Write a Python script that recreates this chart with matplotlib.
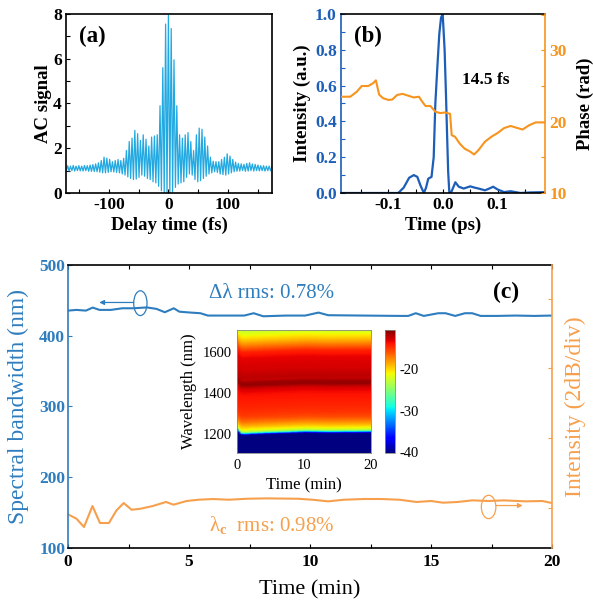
import numpy as np
import matplotlib
matplotlib.use("Agg")
import matplotlib.pyplot as plt
from matplotlib.patches import Ellipse
from matplotlib.ticker import MultipleLocator

# ---- (a) interferometric autocorrelation: fringe maxima / minima ----
FRINGE_FS = 4.7
fringe_index = np.arange(-36, 38)
ac_peaks = [1.22, 1.20, 1.23, 1.20, 1.22, 1.20, 1.23, 1.22, 1.25, 1.27,
            1.30, 1.35, 1.45, 1.60, 1.56, 1.50, 1.40, 1.45, 1.50, 1.45,
            1.55, 1.90, 2.30, 2.45, 2.80, 2.65, 2.35, 2.60, 2.40, 2.10,
            2.50, 2.55, 2.60, 3.90, 5.60, 7.55, 7.95, 7.35, 5.95, 3.90,
            2.60, 2.45, 2.60, 2.70, 2.30, 1.90, 2.60, 2.90, 2.85, 2.50,
            2.10, 1.60, 1.42, 1.40, 1.40, 1.50, 1.60, 1.75, 1.65, 1.50,
            1.38, 1.32, 1.30, 1.28, 1.32, 1.35, 1.30, 1.28, 1.25, 1.22,
            1.22, 1.20, 1.20, 1.18]
ac_troughs = [1.00, 0.98, 1.00, 0.98, 1.00, 0.99, 0.98, 1.00, 0.97, 0.97,
              0.96, 0.95, 0.93, 0.90, 0.90, 0.92, 0.95, 0.94, 0.92, 0.90,
              0.85, 0.80, 0.72, 0.65, 0.60, 0.62, 0.70, 0.80, 0.75, 0.65,
              0.60, 0.50, 0.45, 0.30, 0.10, 0.02, -0.10, -0.10, 0.05, 0.25,
              0.40, 0.45, 0.50, 0.70, 0.85, 0.80, 0.60, 0.50, 0.55, 0.65,
              0.75, 0.85, 0.90, 0.95, 0.92, 0.85, 0.82, 0.80, 0.85, 0.90,
              0.95, 0.97, 0.98, 1.00, 0.97, 0.98, 1.00, 0.98, 1.00, 0.99,
              1.00, 0.98, 1.00, 0.99]

# ---- (b) retrieved pulse ----
int_time_ps = [-0.187, -0.12, -0.082, -0.072, -0.062, -0.0535, -0.047, -0.041,
               -0.035, -0.031, -0.027, -0.021, -0.017, -0.014, -0.010, -0.0067,
               -0.0035, -0.0005, 0.003, 0.0055, 0.0075, 0.0095, 0.0117, 0.016,
               0.0227, 0.029, 0.038, 0.05, 0.058, 0.065, 0.077, 0.085, 0.092,
               0.1, 0.112, 0.124, 0.142, 0.16, 0.187]
intensity = [0.0, 0.0, 0.0, 0.03, 0.085, 0.10, 0.09, 0.04,
             0.0, 0.03, 0.08, 0.09, 0.20, 0.50, 0.72, 0.89,
             0.98, 1.0, 0.80, 0.55, 0.33, 0.12, 0.0, 0.01,
             0.06, 0.035, 0.025, 0.037, 0.03, 0.025, 0.015, 0.025, 0.035,
             0.02, 0.005, 0.01, 0.0, 0.003, 0.005]
phase_time_ps = [-0.187, -0.17, -0.158, -0.149, -0.137, -0.128, -0.123, -0.117,
                 -0.11, -0.10, -0.093, -0.084, -0.074, -0.062, -0.0535, -0.044,
                 -0.038, -0.032, -0.023, -0.014, -0.005, 0.004, 0.013, 0.016,
                 0.022, 0.031, 0.04, 0.05, 0.057, 0.065, 0.077, 0.089, 0.10,
                 0.112, 0.124, 0.137, 0.146, 0.158, 0.17, 0.187]
phase_rad = [23.5, 23.5, 24.2, 25.0, 25.0, 25.4, 25.8, 23.8,
             23.3, 23.05, 23.1, 23.75, 23.9, 23.6, 23.4, 23.5,
             22.8, 22.2, 22.2, 21.4, 21.2, 21.3, 21.1, 18.1,
             17.9, 16.9, 16.2, 15.8, 15.4, 16.0, 17.2, 17.9, 18.4,
             19.1, 19.4, 19.1, 18.9, 19.5, 19.9, 19.9]

# ---- (c) long-term stability ----
bw_time_min = [0, 0.35, 0.74, 1.02, 1.3, 1.77, 2.24, 2.7, 3.26, 3.66, 4.0, 4.37,
               4.6, 5.07, 5.47, 5.78, 6.65, 7.28, 7.67, 8.07, 9.0, 9.8, 10.35,
               10.75, 12.17, 13.74, 14.06, 14.37, 14.7, 15.3, 15.6, 16.0, 16.4,
               16.7, 17.05, 17.7, 18.5, 19.26, 20]
bandwidth_nm = [435.5, 436.5, 435.5, 439.8, 436.5, 436.5, 438.8, 438.8, 440.0,
                437.9, 433.2, 438.8, 434.0, 432.7, 431.8, 428.5, 428.5, 428.5,
                431.8, 427.5, 428.5, 428.5, 432.7, 429.0, 428.5, 428.0, 428.0,
                431.8, 428.0, 431.8, 431.8, 428.0, 431.8, 431.8, 428.0, 428.0,
                428.5, 428.0, 428.5]
cw_time_min = [0, 0.35, 0.66, 1.01, 1.32, 1.69, 2.0, 2.3, 2.63, 3.0, 3.5, 4.05,
               4.36, 4.9, 5.4, 6.0, 6.65, 7.4, 8.2, 9.5, 10.1, 10.75, 11.4,
               12.2, 12.95, 13.7, 14.4, 15.0, 15.5, 16.1, 16.7, 17.4, 18.0,
               18.9, 19.6, 20]
center_wl = [147.5, 141.4, 129.6, 159.3, 135.3, 135.3, 153.0, 163.5, 154.0,
             155.5, 159.3, 165.0, 161.2, 166.4, 168.2, 169.2, 168.2, 169.6,
             170.1, 169.6, 168.2, 165.9, 168.2, 169.2, 169.2, 168.2, 165.0,
             166.4, 164.0, 165.0, 167.3, 166.4, 167.3, 165.9, 166.4, 163.5]

# inset spectrogram: spectrum profile + drift of the short-wavelength edge
spec_wl_nm = [1100, 1195, 1200, 1205, 1210, 1215, 1225, 1240, 1260, 1280, 1300,
              1330, 1360, 1380, 1400, 1420, 1430, 1440, 1455, 1465, 1475, 1490,
              1510, 1540, 1570, 1600, 1620, 1640, 1660, 1680, 1710]
spec_db = [-40.3, -40.3, -38.0, -32.0, -26.0, -23.0, -21.0, -19.0, -17.0, -15.5,
           -14.8, -14.3, -14.0, -13.8, -13.5, -12.8, -12.0, -11.0, -11.3, -12.3,
           -12.0, -12.2, -12.6, -12.8, -13.2, -14.2, -16.0, -17.8, -19.5, -21.0,
           -23.0]
inset_time_min = [0, 0.3, 0.6, 1, 2, 4, 6, 8, 10, 12, 14, 16, 18, 20]
edge_shift_nm = [22, 10, 0, -2, 0, 3, 5, 7, 10, 9, 8, 9, 9, 10]

BLUE_A = "#22A9E1"
BLUE_B = "#1C5EB8"
ORANGE_B = "#F7941E"
BLUE_C = "#2E7DBE"
ORANGE_C = "#F6A04D"

plt.rcParams.update({
    "font.family": "Liberation Serif",
    "font.weight": "bold",
    "mathtext.fontset": "custom",
    "mathtext.rm": "Liberation Serif",
    "axes.unicode_minus": False,
    "xtick.direction": "in",
    "ytick.direction": "in",
    "axes.linewidth": 1.2,
})

fig = plt.figure(figsize=(5.93, 6.09), dpi=100)

# ---------------- (a) ----------------
ax_a = fig.add_axes([0.1113, 0.6831, 0.3474, 0.2939])
pk_t = fringe_index * FRINGE_FS
ac_t = np.column_stack([pk_t - FRINGE_FS / 2, pk_t]).ravel()
ac_v = np.column_stack([ac_troughs, ac_peaks]).ravel()
ax_a.plot(ac_t, ac_v, color=BLUE_A, lw=0.9)
ax_a.set_xlim(-172, 174)
ax_a.set_ylim(0, 8)
ax_a.set_xticks([-100, 0, 100])
ax_a.xaxis.set_minor_locator(MultipleLocator(50))
ax_a.set_yticks([0, 2, 4, 6, 8])
ax_a.yaxis.set_minor_locator(MultipleLocator(1))
ax_a.tick_params(labelsize=12.5, pad=3)
ax_a.tick_params(which="both", length=3, width=0.8)
ax_a.set_ylabel("AC signal", fontsize=13.5, fontweight="bold")
ax_a.yaxis.set_label_coords(-0.07, 0.5)
ax_a.set_xlabel("Delay time (fs)", fontsize=13.5, fontweight="bold")
ax_a.xaxis.set_label_coords(0.5, -0.13)
ax_a.text(0.126, 0.873, "(a)", transform=ax_a.transAxes, fontsize=16.5,
          fontweight="bold", ha="center", va="center")

# ---------------- (b) ----------------
ax_b = fig.add_axes([0.575, 0.6831, 0.344, 0.2939])
ax_b.plot(int_time_ps, intensity, color=BLUE_B, lw=1.6)
ax_b.set_xlim(-0.187, 0.187)
ax_b.set_ylim(0, 1.0)
ax_b.set_xticks([-0.1, 0.0, 0.1])
ax_b.set_xticklabels(["-0.1", "0.0", "0.1"])
ax_b.xaxis.set_minor_locator(MultipleLocator(0.05))
ax_b.set_yticks([0, 0.2, 0.4, 0.6, 0.8, 1.0])
ax_b.set_yticklabels(["0.0", "0.2", "0.4", "0.6", "0.8", "1.0"])
ax_b.yaxis.set_minor_locator(MultipleLocator(0.1))
ax_b.tick_params(labelsize=12.5, pad=3)
ax_b.tick_params(which="both", length=3, width=0.8)
ax_b.tick_params(axis="y", which="both", colors=BLUE_B)
ax_b.spines["left"].set_color(BLUE_B)
ax_b.set_ylabel("Intensity (a.u.)", fontsize=13.5, fontweight="bold")
ax_b.yaxis.set_label_coords(-0.145, 0.5)
ax_b.set_xlabel("Time (ps)", fontsize=13.5, fontweight="bold")
ax_b.xaxis.set_label_coords(0.5, -0.13)
ax_b.text(0.132, 0.873, "(b)", transform=ax_b.transAxes, fontsize=16.5,
          fontweight="bold", ha="center", va="center")
ax_b.text(0.079, 0.63, "14.5 fs", fontsize=12.5, fontweight="bold",
          ha="center", va="center")

ax_b2 = ax_b.twinx()
ax_b2.plot(phase_time_ps, phase_rad, color=ORANGE_B, lw=1.5)
ax_b2.set_ylim(10, 35.1)
ax_b2.set_yticks([10, 20, 30])
ax_b2.yaxis.set_minor_locator(MultipleLocator(5))
ax_b2.tick_params(labelsize=12.5, pad=3, colors=ORANGE_B)
ax_b2.tick_params(which="both", length=3, width=0.8, colors=ORANGE_B)
for s in ("left", "top", "bottom"):
    ax_b2.spines[s].set_visible(False)
ax_b2.spines["right"].set_color(ORANGE_B)
ax_b.spines["right"].set_visible(False)
ax_b2.set_ylabel("Phase (rad)", fontsize=13.5, fontweight="bold")
ax_b2.yaxis.set_label_coords(1.157, 0.5)

# ---------------- (c) ----------------
ax_c = fig.add_axes([0.1147, 0.1002, 0.8162, 0.4647])
ax_c.plot(bw_time_min, bandwidth_nm, color=BLUE_C, lw=1.5)
ax_c.plot(cw_time_min, center_wl, color=ORANGE_C, lw=1.5)
ax_c.set_xlim(0, 20)
ax_c.set_ylim(100, 500)
ax_c.set_xticks([0, 5, 10, 15, 20])
ax_c.xaxis.set_minor_locator(MultipleLocator(2.5))
ax_c.set_yticks([100, 200, 300, 400, 500])
ax_c.tick_params(labelsize=12.5)
ax_c.tick_params(axis="x", which="both", top=True, length=3, width=0.8, pad=4)
ax_c.tick_params(axis="y", length=3, width=0.8, pad=2, colors=BLUE_C)
ax_c.spines["left"].set_color(BLUE_C)
ax_c.spines["right"].set_visible(False)
ax_c.set_ylabel("Spectral bandwidth (nm)", fontsize=17, fontweight="normal",
                color=BLUE_C)
ax_c.yaxis.set_label_coords(-0.08, 0.5)
ax_c.set_xlabel("Time (min)", fontsize=16, fontweight="normal")
ax_c.xaxis.set_label_coords(0.5, -0.115)

ax_c2 = ax_c.twinx()
ax_c2.set_ylim(100, 500)
ax_c2.set_yticks([157, 255, 354, 452])
ax_c2.tick_params(axis="y", length=3, width=0.8, colors=ORANGE_C, labelright=False)
for s in ("left", "top", "bottom"):
    ax_c2.spines[s].set_visible(False)
ax_c2.spines["right"].set_color(ORANGE_C)
ax_c2.set_ylabel("Intensity (2dB/div)", fontsize=17, fontweight="normal",
                 color=ORANGE_C)
ax_c2.yaxis.set_label_coords(1.027, 0.5)

ax_c.text(5.83, 459, "Δλ rms: 0.78%", fontsize=15, fontweight="normal",
          color=BLUE_C, ha="left", va="center")
ax_c.text(5.83, 132, r"λ$_\mathrm{c}$  rms: 0.98%", fontsize=15,
          fontweight="normal", color=ORANGE_C, ha="left", va="center")
ax_c.text(18.1, 461, "(c)", fontsize=17, fontweight="bold", ha="center",
          va="center")

ax_c.add_patch(Ellipse((2.99, 446), 0.55, 35, fill=False, ec=BLUE_C, lw=0.9))
ax_c.annotate("", xy=(1.29, 447), xytext=(2.71, 447),
              arrowprops=dict(arrowstyle="-|>", color=BLUE_C, lw=0.9,
                              mutation_scale=7, shrinkA=0, shrinkB=0))
ax_c.add_patch(Ellipse((17.38, 158), 0.6, 33, fill=False, ec=ORANGE_C, lw=0.9))
ax_c.annotate("", xy=(18.79, 160), xytext=(17.68, 160),
              arrowprops=dict(arrowstyle="-|>", color=ORANGE_C, lw=0.9,
                              mutation_scale=7, shrinkA=0, shrinkB=0))

# inset spectrogram
ax_in = fig.add_axes([0.3997, 0.2562, 0.226, 0.2020])
wl_grid = np.linspace(1105, 1708, 400)
spec_map = np.array([np.interp(wl_grid - sh, spec_wl_nm, spec_db)
                     for sh in edge_shift_nm]).T
mesh = ax_in.pcolormesh(inset_time_min, wl_grid, spec_map, cmap="jet",
                        vmin=-40.3, vmax=-10.4, shading="gouraud")
ax_in.set_xlim(0, 20)
ax_in.set_ylim(1108, 1705)
ax_in.set_xticks([0, 10, 20])
ax_in.set_yticks([1200, 1400, 1600])
ax_in.tick_params(labelsize=10.5, length=0, pad=4)
for lab in ax_in.get_xticklabels() + ax_in.get_yticklabels():
    lab.set_fontweight("normal")
for s in ax_in.spines.values():
    s.set_linewidth(0.6)
    s.set_color("#888888")
ax_in.set_xlabel("Time (min)", fontsize=12, fontweight="normal", labelpad=1)
ax_in.set_ylabel("Wavelength (nm)", fontsize=12, fontweight="normal")
ax_in.yaxis.set_label_coords(-0.3, 0.5)
ax_in.xaxis.set_label_coords(0.5, -0.2)

cax = fig.add_axes([0.6492, 0.2562, 0.0175, 0.2020])
cb = fig.colorbar(mesh, cax=cax)
cb.set_ticks([-20, -30, -40])
cb.ax.tick_params(labelsize=10.5, length=0, pad=3)
for lab in cb.ax.get_yticklabels():
    lab.set_fontweight("normal")
cb.outline.set_linewidth(0.6)
cb.outline.set_edgecolor("#888888")

fig.savefig("out.png", dpi=100)
